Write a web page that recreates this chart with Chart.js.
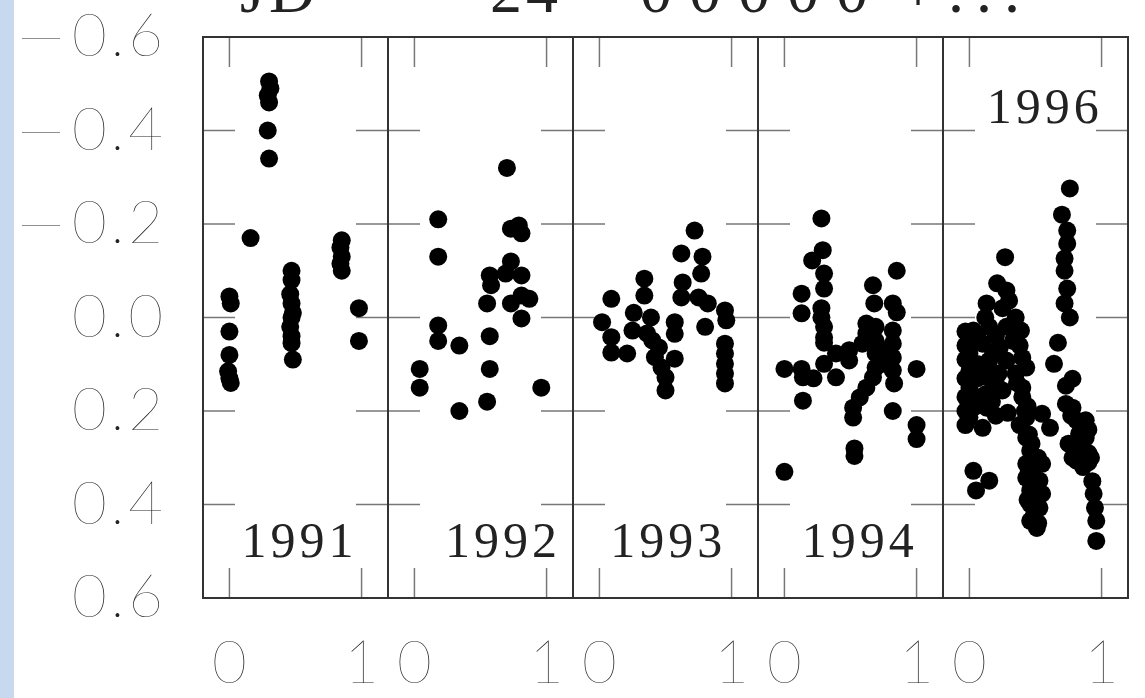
<!DOCTYPE html>
<html>
<head>
<meta charset="utf-8">
<script src="https://cdn.jsdelivr.net/npm/chart.js@4.4.0/dist/chart.umd.min.js"></script>
<style>
  html, body { margin: 0; padding: 0; background: #fff; }
  canvas { display: block; }
</style>
</head>
<body>
<canvas id="lightCurve" width="1145" height="698"></canvas>
<script>
const years = ["1991", "1992", "1993", "1994", "1996"];

// phase / magnitude difference per season
const phase1991 = [0.30, 0.31, 0.29, 0.30, 0.29, 0.30, 0.16, 0.00, 0.01, 0.00, 0.00, -0.01, 0.00, 0.01,
  0.47, 0.47, 0.46, 0.47, 0.48, 0.47, 0.46, 0.47, 0.47, 0.48, 0.85, 0.84, 0.85, 0.84, 0.85, 0.98, 0.98];
const mag1991 = [-0.505, -0.49, -0.475, -0.46, -0.40, -0.34, -0.17, -0.045, -0.03, 0.03, 0.08, 0.115, 0.13, 0.14,
  -0.10, -0.08, -0.05, -0.03, -0.01, 0.00, 0.02, 0.04, 0.055, 0.09, -0.165, -0.15, -0.13, -0.115, -0.10, -0.02, 0.05];

const phase1992 = [0.70, 0.18, 0.79, 0.73, 0.81, 0.18, 0.73, 0.57, 0.69, 0.81, 0.58, 0.55, 0.73, 0.81, 0.87,
  0.81, 0.18, 0.18, 0.34, 0.57, 0.57, 0.04, 0.04, 0.96, 0.55, 0.34];
const mag1992 = [-0.32, -0.21, -0.197, -0.19, -0.18, -0.13, -0.12, -0.09, -0.094, -0.09, -0.069, -0.03, -0.03, -0.047, -0.04,
  0.002, 0.017, 0.05, 0.06, 0.04, 0.11, 0.11, 0.15, 0.15, 0.18, 0.20];

const phase1993 = [0.72, 0.62, 0.78, 0.77, 0.63, 0.62, 0.75, 0.82, 0.95, 0.96, 0.80, 0.95, 0.95, 0.95, 0.95, 0.95,
  0.34, 0.34, 0.09, 0.02, 0.26, 0.39, 0.57, 0.57, 0.09, 0.25, 0.09, 0.21, 0.40, 0.42, 0.57, 0.47, 0.50, 0.50, 0.36, 0.45];
const mag1993 = [-0.186, -0.137, -0.13, -0.094, -0.075, -0.043, -0.043, -0.03, -0.015, 0.006, 0.02, 0.056, 0.077, 0.099, 0.12, 0.141,
  -0.083, -0.047, -0.04, 0.01, -0.01, 0.0, 0.01, 0.035, 0.042, 0.028, 0.075, 0.077, 0.049, 0.085, 0.088, 0.107, 0.128, 0.156, 0.034, 0.064];

const phase1994 = [0.28, 0.29, 0.21, 0.30, 0.30, 0.13, 0.13, 0.28, 0.28, 0.30, 0.30, 0.30, 0.85, 0.67, 0.68,
  0.82, 0.85, 0.00, 0.13, 0.14, 0.22, 0.30, 0.39, 0.39, 0.49, 0.49, 0.62, 0.62, 0.59, 0.69,
  0.69, 0.69, 0.69, 0.67, 0.62, 0.57, 0.52, 0.52, 0.82, 0.82, 0.82, 0.82, 0.83, 0.75, 0.77,
  1.00, 0.14, 0.82, 1.00, 1.00, 0.53, 0.53, 0.00];
const mag1994 = [-0.212, -0.144, -0.122, -0.094, -0.062, -0.051, -0.009, -0.02, 0.0, 0.02, 0.043, 0.054, -0.10, -0.069, -0.03,
  -0.03, -0.011, 0.11, 0.11, 0.128, 0.13, 0.099, 0.077, 0.128, 0.07, 0.092, 0.013, 0.034, 0.056, 0.02,
  0.05, 0.077, 0.107, 0.128, 0.15, 0.171, 0.193, 0.214, 0.028, 0.056, 0.086, 0.113, 0.141, 0.07, 0.10,
  0.11, 0.178, 0.20, 0.23, 0.26, 0.28, 0.296, 0.33];

const phase1996 = [0.76, 0.70, 0.74, 0.74, 0.72, 0.72, 0.74, 0.72, 0.76, 0.67, 0.64, 0.78, 0.73, 0.78, 0.81,
  0.83, 0.83, 0.81, 0.88, 0.88, 0.93, 0.94, 0.95, 0.96, 0.96,
  0.73, 0.77, 0.90, 0.75, 0.90, 0.78, 0.90, 0.85, 0.92, 0.86,
  0.27, 0.21, 0.28, 0.13, 0.25, 0.30, 0.03, 0.15, 0.28, 0.39, 0.00, 0.10, 0.23, 0.00, 0.15, 0.28,
  0.40, 0.00, 0.15, 0.43, 0.00, 0.13, 0.25, 0.40, 0.03, 0.13, 0.00, 0.10, 0.29, 0.43, 0.55, 0.61,
  0.06, 0.20, 0.33, 0.07, 0.22, 0.35, 0.06, 0.08, 0.20, 0.40, 0.44,
  -0.03, -0.03, -0.03, -0.03, -0.03, -0.03, -0.03,
  0.12, 0.18, 0.11, 0.19, 0.17, 0.20,
  0.35, 0.38, 0.36, 0.42, 0.38, 0.45,
  0.43, 0.46, 0.43, 0.48, 0.55, 0.43, 0.53, 0.46, 0.55, 0.46, 0.53, 0.46, 0.51,
  0.47, 0.52, 0.45, 0.50, 0.44, 0.49, 0.52,
  0.03, 0.15, 0.05];
const mag1996 = [-0.276, -0.22, -0.186, -0.158, -0.126, -0.10, -0.062, -0.03, 0.0, 0.054, 0.099, 0.131, 0.146, 0.193, 0.22,
  0.249, 0.279, 0.306, 0.22, 0.257, 0.35, 0.377, 0.407, 0.435, 0.478,
  0.185, 0.21, 0.24, 0.27, 0.29, 0.30, 0.31, 0.26, 0.30, 0.32,
  -0.129, -0.073, -0.058, -0.03, -0.02, -0.036, 0.028, 0.02, 0.02, 0.028, 0.05, 0.056, 0.064, 0.077, 0.092, 0.092,
  0.086, 0.114, 0.129, 0.107, 0.15, 0.163, 0.156, 0.15, 0.193, 0.193, 0.214, 0.236, 0.204, 0.214, 0.206, 0.236,
  0.04, 0.04, 0.05, 0.10, 0.12, 0.12, 0.13, 0.17, 0.14, 0.17, 0.19,
  0.03, 0.06, 0.09, 0.13, 0.17, 0.20, 0.23,
  0.0, 0.075, 0.11, 0.145, 0.18, 0.21,
  0.0, 0.06, 0.14, 0.20, 0.23, 0.25,
  0.257, 0.285, 0.313, 0.321, 0.313, 0.343, 0.349, 0.37, 0.377, 0.399, 0.407, 0.435, 0.45,
  0.27, 0.30, 0.33, 0.36, 0.39, 0.42, 0.44,
  0.328, 0.349, 0.37];

const magTicks = [-0.6, -0.4, -0.2, 0.0, 0.2, 0.4, 0.6];
const phaseTicks = [0, 1];

const phases = [phase1991, phase1992, phase1993, phase1994, phase1996];
const mags = [mag1991, mag1992, mag1993, mag1994, mag1996];

// where each season's year is written, in (phase, mag)
const yearTags = [
  { phase: 0.53, mag: 0.485 },
  { phase: 0.67, mag: 0.485 },
  { phase: 0.52, mag: 0.485 },
  { phase: 0.57, mag: 0.485 },
  { phase: 0.57, mag: -0.445 },
];

const axisFont = { family: "Lato", size: 60, weight: 100 };
const ink = "#222";
const HAIR = "\u200A";

// "−0.6" style labels, spread out a little like the plotter font
function magLabel(v) {
  const body = (Math.abs(v) < 1e-9 ? 0 : Math.abs(v)).toFixed(1).split("").join(HAIR);
  return (v < -1e-9 ? "—\u2009" : "") + body;
}

const datasets = years.map((yr, i) => ({
  label: yr,
  xAxisID: "x" + yr,
  data: phases[i].map((p, j) => ({ x: p, y: mags[i][j] })),
  backgroundColor: "#000",
  borderWidth: 0,
  pointRadius: 9,
  pointHoverRadius: 9,
}));

const scales = {
  y: {
    type: "linear",
    position: "left",
    reverse: true,
    min: -0.6,
    max: 0.6,
    afterBuildTicks: (s) => { s.ticks = magTicks.map((v) => ({ value: v })); },
    afterFit: (s) => {
      s.width = 203;
      s.paddingTop = 0;
      s.paddingBottom = 0;
    },
    grid: { display: false, drawTicks: false },
    border: { display: false },
    ticks: { padding: 40, color: ink, font: axisFont, callback: magLabel },
  },
};

// one phase axis per season, laid side by side
years.forEach((yr) => {
  scales["x" + yr] = {
    type: "linear",
    position: "bottom",
    stack: "seasons",
    min: -0.2,
    max: 1.2,
    afterBuildTicks: (s) => { s.ticks = phaseTicks.map((v) => ({ value: v })); },
    afterFit: (s) => {
      s.height = 100;
      s.paddingLeft = 0;
      s.paddingRight = 0;
    },
    grid: { display: false, drawTicks: false },
    border: { display: false },
    ticks: {
      padding: 30,
      maxRotation: 0,
      autoSkip: false,
      color: ink,
      font: axisFont,
      callback: (v) => String(v),
    },
  };
});

function seg(ctx, x1, y1, x2, y2) {
  ctx.beginPath();
  ctx.moveTo(x1, y1);
  ctx.lineTo(x2, y2);
  ctx.stroke();
}

const panelDecor = {
  id: "panelDecor",
  beforeDraw(chart) {
    const ctx = chart.ctx;
    ctx.save();
    ctx.fillStyle = "#c6d9ef";
    ctx.fillRect(0, 0, 14, chart.height);
    ctx.restore();
  },
  beforeDatasetsDraw(chart) {
    const { ctx, chartArea: a, scales: sc } = chart;
    ctx.save();
    ctx.strokeStyle = "#777";
    ctx.lineWidth = 1.5;
    years.forEach((yr) => {
      const s = sc["x" + yr];
      phaseTicks.forEach((p) => {
        const px = s.getPixelForValue(p);
        seg(ctx, px, a.top, px, a.top + 30);
        seg(ctx, px, a.bottom, px, a.bottom - 30);
      });
      magTicks.slice(1, -1).forEach((m) => {
        const py = sc.y.getPixelForValue(m);
        seg(ctx, s.left, py, s.left + 32, py);
        seg(ctx, s.right - 32, py, s.right, py);
      });
    });
    ctx.strokeStyle = "#333";
    ctx.lineWidth = 2;
    ctx.strokeRect(a.left, a.top, a.right - a.left, a.bottom - a.top);
    years.slice(1).forEach((yr) => {
      const x = sc["x" + yr].left;
      seg(ctx, x, a.top, x, a.bottom);
    });
    ctx.restore();
  },
  afterDraw(chart) {
    const { ctx, scales: sc } = chart;
    ctx.save();
    ctx.fillStyle = ink;
    ctx.font = "50px 'Liberation Serif'";
    ctx.letterSpacing = "4px";
    ctx.textAlign = "center";
    ctx.textBaseline = "middle";
    years.forEach((yr, i) => {
      const t = yearTags[i];
      ctx.fillText(yr, sc["x" + yr].getPixelForValue(t.phase), sc.y.getPixelForValue(t.mag));
    });
    // heading, mostly cut off by the top edge
    ctx.font = "64px 'Liberation Serif'";
    ctx.textAlign = "left";
    ctx.textBaseline = "alphabetic";
    ctx.letterSpacing = "4px";
    ctx.fillText("JD", 240, 12);
    ctx.fillText("24", 490, 12);
    ctx.letterSpacing = "17px";
    ctx.fillText("00000", 640, 12);
    ctx.letterSpacing = "12px";
    ctx.fillText("+...", 900, 12);
    ctx.restore();
  },
};

new Chart(document.getElementById("lightCurve"), {
  type: "scatter",
  data: { datasets },
  options: {
    responsive: false,
    animation: false,
    devicePixelRatio: 1,
    layout: { padding: { left: 0, right: 17, top: 37, bottom: 0 } },
    plugins: { legend: { display: false }, tooltip: { enabled: false } },
    scales,
  },
  plugins: [panelDecor],
});
</script>
</body>
</html>
